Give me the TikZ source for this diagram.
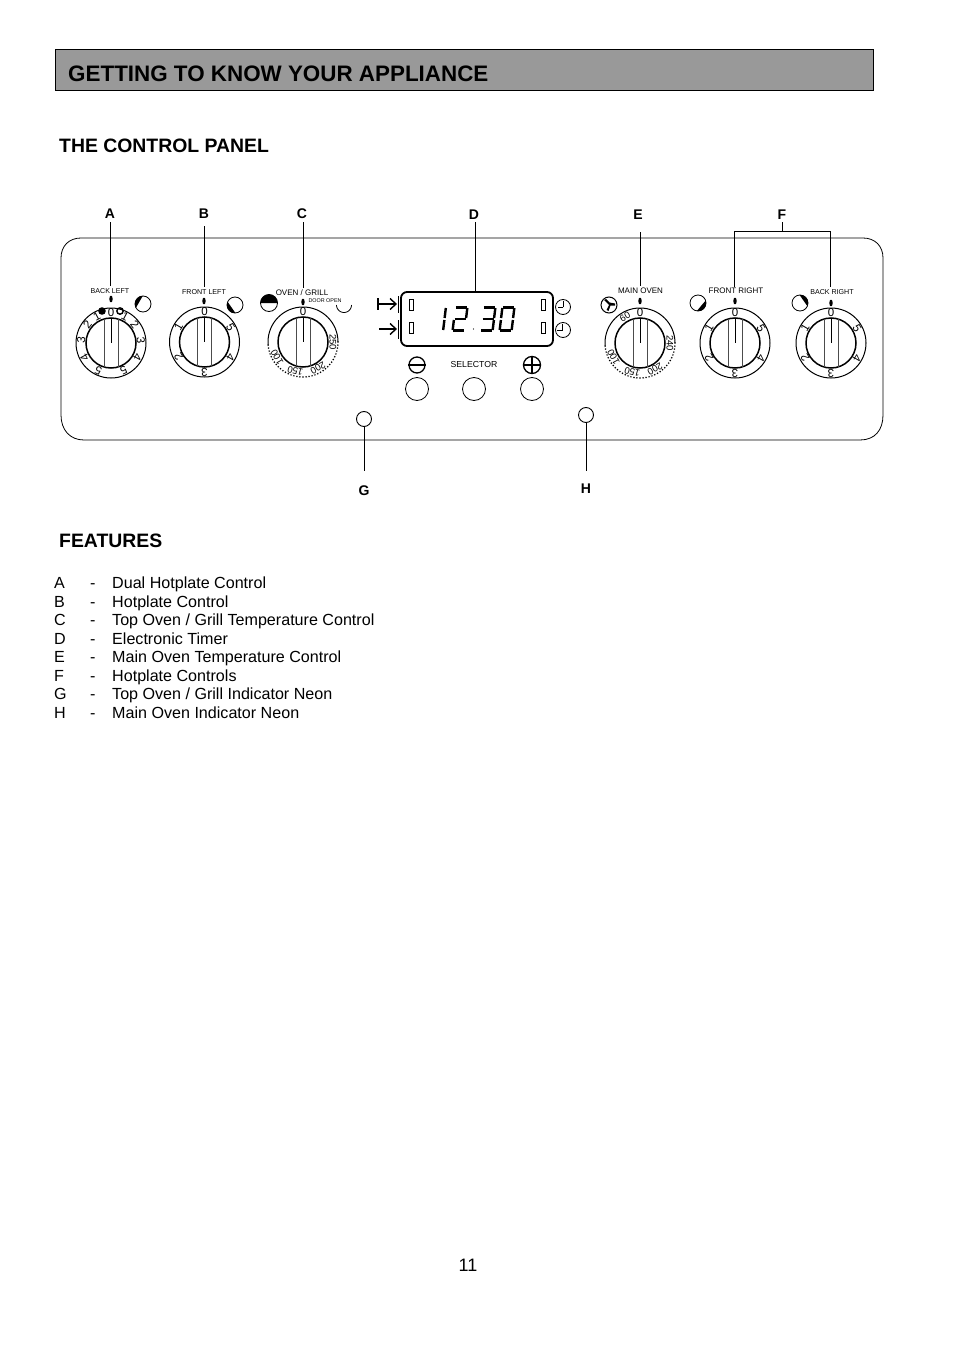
\documentclass[tikz,border=0pt]{standalone}
\usepackage{fontspec}
\setmainfont{Liberation Sans}
\begin{document}
\begin{tikzpicture}[x=1pt,y=-1pt,
  txt/.style={anchor=base west,inner sep=0pt,font=\fontsize{16.1}{18}\selectfont},
  head/.style={anchor=west,inner sep=0pt,font=\fontsize{19.4}{22}\selectfont\bfseries},
  letter/.style={inner sep=0pt,font=\fontsize{14}{16}\selectfont\bfseries},
  tiny/.style={inner sep=0pt,font=\fontsize{8}{9}\selectfont},
  tinier/.style={inner sep=0pt,font=\fontsize{7.1}{9}\selectfont},
  num/.style={inner sep=0pt,font=\fontsize{11.5}{12}\selectfont},
  numsm/.style={inner sep=0pt,font=\fontsize{9.5}{10}\selectfont},
  lead/.style={draw=black,line width=.8pt},
  seg/.style={line width=2.4pt,line cap=butt},
  pt/.style={circle,draw,line width=.9pt,inner sep=0pt,minimum size=15pt}]
\useasboundingbox (0,0) rectangle (954,1351);
\fill[white] (0,0) rectangle (954,1351);
\newcommand{\knobbase}[2]{%
  \draw[line width=1pt] (#1,#2) circle (35);
  \draw[line width=1.5pt] (#1,#2) circle (25);
  \draw[line width=.8pt,black!70] (#1-7,#2-23.9) -- (#1-7,#2+23.9) (#1+7,#2-23.9) -- (#1+7,#2+23.9);
  \draw[line width=1pt] (#1,#2-25) -- (#1,#2);}
\newcommand{\numat}[5]{\node[#5,rotate=-#3] at ({#1+30*sin(#3)},{#2-30*cos(#3)}) {#4};}
\newcommand{\hobknob}[2]{%
  \knobbase{#1}{#2}
  \foreach \a/\t in {0/0,-60/1,-120/2,180/3,120/4,60/5}{\numat{#1}{#2}{\a}{\t}{num}}}
\newcommand{\tempknob}[2]{%
  \knobbase{#1}{#2}
  \draw[line width=2pt,white] plot[domain=90:265,samples=40,smooth] ({#1+35*sin(\x)},{#2-35*cos(\x)});
  \foreach \a in {90,95,...,265}{\fill ({#1+35*sin(\a)},{#2-35*cos(\a)}) circle (.85);}
  \numat{#1}{#2}{0}{0}{num}}
\newcommand{\marker}[2]{\fill (#1,#2) ellipse (1.7 and 3.4);}
% shaded segment on a small circle: #1,#2 centre, #3 radius, #4 mid-angle (screen sense)
\newcommand{\hobicon}[4]{%
  \fill plot[domain={#4-58}:{#4+58},samples=20,smooth] ({#1+#3*cos(\x)},{#2-#3*sin(\x)}) -- cycle;
  \draw[line width=.8pt] (#1,#2) circle (#3);}
% header
\node[draw=black,fill=black!40,line width=.8pt,minimum width=817.8pt,minimum height=41.5pt,inner sep=0pt,anchor=north west] (bar) at (55,49) {};
\node[anchor=west,inner sep=0pt,font=\fontsize{22.4}{24}\selectfont\bfseries] (title) at (68,74) {GETTING TO KNOW YOUR APPLIANCE};
\node[head] (cp) at (59,146) {THE CONTROL PANEL};
\node[head] (feat) at (59,541) {FEATURES};
% panel
\draw[line width=.8pt] (81,238) -- (863,238) .. controls (875,238) and (883,246) .. (883,258)
  -- (883,415) .. controls (883,430) and (875,440) .. (860,440)
  -- (84,440) .. controls (70,440) and (61,430) .. (61,415)
  -- (61,258) .. controls (61,246) and (69,238) .. (81,238) -- cycle;
% letters
\node[letter] (la) at (110,214) {A};
\node[letter] (lb) at (204,214) {B};
\node[letter] (lc) at (302,214) {C};
\node[letter] (ld) at (474,215) {D};
\node[letter] (le) at (638,215) {E};
\node[letter] (lf) at (782,215) {F};
\node[letter] (lg) at (364,491) {G};
\node[letter] (lh) at (586,489) {H};
% panel texts
\node[tinier] (tba) at (110,291) {BACK LEFT};
\node[tinier] (tfl) at (204,292) {FRONT LEFT};
\node[tiny] (tog) at (302,293) {OVEN / GRILL};
\node[inner sep=0pt,font=\fontsize{5.4}{6}\selectfont] (tdo) at (325,301) {DOOR OPEN};
\node[tiny] (tmo) at (640.5,291) {MAIN OVEN};
\node[tiny] (tfr) at (736,291) {FRONT RIGHT};
\node[tinier] (tbr) at (832,292) {BACK RIGHT};
\node[inner sep=0pt,font=\fontsize{8.7}{9}\selectfont] (tse) at (474,364.5) {SELECTOR};
% leaders
\coordinate (ca) at (110,222); \coordinate (cb) at (204,226); \coordinate (cc) at (303,222);
\coordinate (cd) at (475,222); \coordinate (ce) at (640,232); \coordinate (cf) at (782,222);
\coordinate (f1) at (734,231); \coordinate (f2) at (830,231); \coordinate (f1b) at (734,287); \coordinate (f2b) at (830,287);
\coordinate (fm) at (782,231);
\draw[lead] (ca) -- (110,286);
\draw[lead] (cb) -- (204,287);
\draw[lead] (cc) -- (303,288);
\draw[lead] (cd) -- (475,292);
\draw[lead] (ce) -- (640,286);
\draw[lead] (cf) -- (fm);
\draw[lead] (f1b) -- (f1) -- (f2) -- (f2b);
% neons
\node[pt] (ng) at (364,419) {};
\node[pt] (nh) at (586,415) {};
\coordinate (gb) at (364,471); \coordinate (hb) at (586,471);
\draw[lead] (ng) -- (gb);
\draw[lead] (nh) -- (hb);
% markers
\marker{111}{299}\marker{204}{301}\marker{303}{302}\marker{640}{301}\marker{735}{301}\marker{831}{303}
% knob A
\knobbase{111}{343}
\foreach \a/\t in {0/0,28/1,52/2,85/3,118/4,155/5,-28/1,-52/2,-85/3,-118/4,-155/5}{\numat{111}{343}{\a}{\t}{num}}
\fill (102,311) circle (3.8);
\draw[line width=1.4pt] (120,311) circle (3.2);
% other hob knobs
\hobknob{204.5}{342}
\hobknob{735}{343}
\hobknob{831}{343}
% oven / grill knob
\tempknob{303}{342}
\numat{303}{342}{90}{250}{numsm}\numat{303}{342}{150}{200}{numsm}\numat{303}{342}{-165}{150}{numsm}\numat{303}{342}{-120}{100}{numsm}
% main oven knob
\tempknob{640}{343}
\numat{640}{343}{-30}{60}{numsm}\numat{640}{343}{90}{240}{numsm}\numat{640}{343}{150}{200}{numsm}\numat{640}{343}{-165}{150}{numsm}\numat{640}{343}{-118}{100}{numsm}
% hob icons
\hobicon{143}{304}{8}{150}
\hobicon{235}{305}{8}{215}
\hobicon{698}{303}{8}{-40}
\hobicon{800}{303}{8}{35}
\draw[line width=.8pt] (269,303) circle (8.5);
\fill plot[domain=0:180,samples=20,smooth] ({269+8.5*cos(\x)},{303-8.5*sin(\x)}) -- cycle;
\draw[line width=.8pt] plot[domain=180:360,samples=20,smooth] ({344+7.5*cos(\x)},{305-7.5*sin(\x)});
% fan
\draw[line width=1pt] (609,305) circle (8);
\fill (609,305) -- (604,300) -- (606,299) -- (609.5,302.5) -- (615,303.5) -- (615,305.5) -- (610.5,305.5) -- (608.5,311) -- (606.5,310) -- cycle;
% display
\node[draw=black,line width=1.8pt,rounded corners=6pt,minimum width=152pt,minimum height=54pt,inner sep=0pt] (disp) at (477,319) {};
\foreach \yy in {299,322}{\draw[line width=.5pt] (409,\yy) rectangle (413,\yy+11) (541,\yy) rectangle (545,\yy+11);}
\newcommand{\dg}[2]{\begin{scope}[shift={(#1,319)},xslant=0.12]\foreach \s in {#2}{\draw[seg] \s;}\end{scope}}
\def\ta{(-5.5,-11.5) -- (5.5,-11.5)}\def\tb{(6,-11) -- (6,-1)}\def\tc{(6,1) -- (6,11)}
\def\td{(-5.5,11.5) -- (5.5,11.5)}\def\te{(-6,1) -- (-6,11)}\def\tf{(-6,-11) -- (-6,-1)}\def\tg{(-5.5,0) -- (5.5,0)}
\dg{444.5}{{(0,-11) -- (0,-1)},{(0,1) -- (0,11)}}
\dg{460}{\ta,\tb,\tg,\te,\td}
\dg{488}{\ta,\tb,\tg,\tc,\td}
\dg{507}{\ta,\tb,\tc,\td,\te,\tf}
\fill (473.5,329) circle (.7);
% timer icons
\foreach \n/\yy in {1/307,2/330}{\draw[line width=.8pt] (563,\yy) circle (7.5);}
\draw[line width=.8pt] (563,307) -- (563,301) (563,307) -- (558,307);
\draw[line width=.8pt] (562.5,330) -- (562.5,324) (562.5,330) -- (557,330);
% mode icons
\draw[line width=1.4pt] (378,304) -- (396,304) (378,298) -- (378,310);
\draw[line width=1.4pt] (390,298.5) -- (396,304) -- (390,309.5);
\draw[line width=1.4pt] (379,329) -- (396,329);
\draw[line width=1.4pt] (390,323.5) -- (396,329) -- (390,334.5);
\draw[line width=1pt] (398.5,296) -- (398.5,313) (398.5,320) -- (398.5,339);
% selector
\node[circle,draw,line width=1.3pt,minimum size=16pt,inner sep=0pt] (mn) at (417,365) {};
\node[circle,draw,line width=1.3pt,minimum size=17pt,inner sep=0pt] (pl) at (532,365) {};
\draw[line width=1.8pt] (mn.west) -- (mn.east);
\draw[line width=1.8pt] (pl.west) -- (pl.east) (pl.north) -- (pl.south);
\node[circle,draw,line width=.8pt,minimum size=23pt,inner sep=0pt] (b1) at (417,389) {};
\node[circle,draw,line width=.8pt,minimum size=23pt,inner sep=0pt] (b2) at (474,389) {};
\node[circle,draw,line width=.8pt,minimum size=23pt,inner sep=0pt] (b3) at (532,389) {};
% features
\foreach \l/\t/\yy [count=\i] in {A/{Dual Hotplate Control}/588.5,B/{Hotplate Control}/607,C/{Top Oven / Grill Temperature Control}/625.5,D/{Electronic Timer}/644.5,E/{Main Oven Temperature Control}/662.5,F/{Hotplate Controls}/681,G/{Top Oven / Grill Indicator Neon}/699.5,H/{Main Oven Indicator Neon}/718.5}{
  \node[txt] (fl\i) at (54,\yy) {\l};
  \node[txt] (fd\i) at (90,\yy) {-};
  \node[txt] (ft\i) at (112,\yy) {\t};
}
\node[inner sep=0pt,font=\fontsize{18}{20}\selectfont] (pg) at (468,1265) {11};
\end{tikzpicture}
\end{document}
